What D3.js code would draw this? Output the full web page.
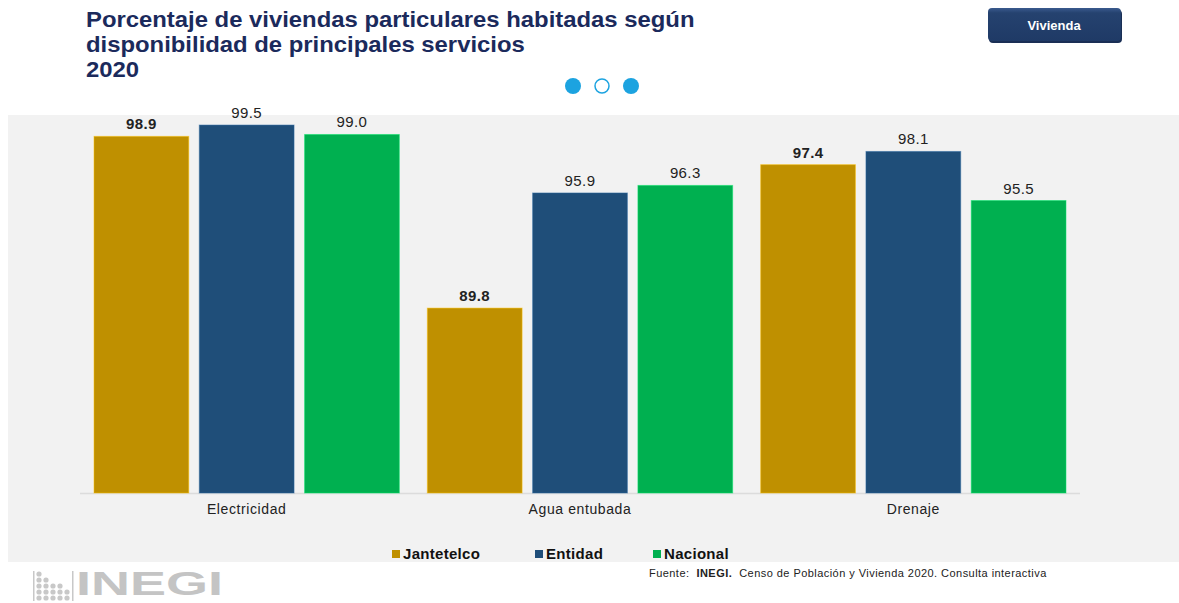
<!DOCTYPE html>
<html><head><meta charset="utf-8">
<script src="https://cdn.jsdelivr.net/npm/d3@7"></script>
<style>body{margin:0;background:#fff;font-family:"Liberation Sans",Arial,sans-serif;}</style>
</head><body>
<svg id="c" width="1179" height="603"></svg>
<script>
const categories = ["Electricidad", "Agua entubada", "Drenaje"];
const seriesNames = ["Jantetelco", "Entidad", "Nacional"];
const jantetelco = [98.9, 89.8, 97.4];
const entidad = [99.5, 95.9, 98.1];
const nacional = [99.0, 96.3, 95.5];
const seriesColors = ["#BF9000", "#1F4E79", "#00B050"];
const titleLines = ["Porcentaje de viviendas particulares habitadas según", "disponibilidad de principales servicios", "2020"];

const values = [jantetelco, entidad, nacional];
const svg = d3.select("#c");
const font = '"Liberation Sans",Arial,sans-serif';

// panel
svg.append("rect").attr("x", 8).attr("y", 115).attr("width", 1171).attr("height", 447).attr("fill", "#f2f2f2");

// title (slightly widened like the reference rendering)
svg.append("g").attr("transform", "translate(86,0) scale(1.085,1)")
  .selectAll("text").data(titleLines).join("text")
  .attr("x", 0).attr("y", (d, i) => 27 + i * 25)
  .attr("font-family", font).attr("font-size", 22).attr("font-weight", "bold")
  .attr("fill", "#1b2a5c").text(d => d);

// button
const defs = svg.append("defs");
const grad = defs.append("linearGradient").attr("id", "bg").attr("x1", 0).attr("y1", 0).attr("x2", 0).attr("y2", 1);
grad.append("stop").attr("offset", "0%").attr("stop-color", "#3a5a8e");
grad.append("stop").attr("offset", "15%").attr("stop-color", "#25426f");
grad.append("stop").attr("offset", "100%").attr("stop-color", "#1f3a66");
svg.append("rect").attr("x", 989).attr("y", 10).attr("width", 133).attr("height", 33).attr("rx", 4)
  .attr("fill", "#1a2f55");
svg.append("rect").attr("x", 988).attr("y", 8).attr("width", 133).attr("height", 33).attr("rx", 4)
  .attr("fill", "url(#bg)");
svg.append("text").attr("x", 1054).attr("y", 30).attr("text-anchor", "middle")
  .attr("font-family", font).attr("font-size", 13).attr("font-weight", "bold").attr("fill", "#fff").text("Vivienda");

// dots
[573, 602, 631].forEach((cx, i) => {
  svg.append("circle").attr("cx", cx).attr("cy", 86).attr("r", i === 1 ? 7 : 8)
    .attr("fill", i === 1 ? "#fff" : "#1ca3e0").attr("stroke", "#1ca3e0").attr("stroke-width", i === 1 ? 1.5 : 0);
});

// scales
const x0 = d3.scaleBand().domain(categories).range([80, 1080]).paddingInner(0).paddingOuter(0);
const x1 = d3.scaleBand().domain(seriesNames).range([14, x0.bandwidth() - 14]).paddingInner(0.1).paddingOuter(0);
const y = d3.scaleLinear().domain([80, 100]).range([493, 115.6]);

// baseline
svg.append("line").attr("x1", 80).attr("x2", 1080).attr("y1", y(80) + 0.5).attr("y2", y(80) + 0.5)
  .attr("stroke", "#dcdcdc").attr("stroke-width", 1.5);

const g = svg.append("g");
categories.forEach((cat, ci) => {
  seriesNames.forEach((s, si) => {
    const v = values[si][ci];
    const bx = x0(cat) + x1(s);
    g.append("rect").attr("x", bx).attr("y", y(v)).attr("width", x1.bandwidth()).attr("height", y(80) - y(v))
      .attr("fill", seriesColors[si]).attr("stroke", d3.color(seriesColors[si]).brighter(0.8)).attr("stroke-width", 1).attr("stroke-opacity", 0.5);
    g.append("text").attr("x", bx + x1.bandwidth() / 2).attr("y", y(v) - 7).attr("text-anchor", "middle")
      .attr("font-family", font).attr("font-size", 15).attr("font-weight", si === 0 ? "bold" : "normal")
      .attr("letter-spacing", 0.4).attr("fill", "#222").text(v.toFixed(1));
  });
});

// x axis labels
const xAxis = d3.axisBottom(x0).tickSize(0).tickPadding(0);
const ax = svg.append("g").attr("transform", `translate(0,${y(80)})`).call(xAxis);
ax.select(".domain").remove();
ax.selectAll("text").attr("font-family", font).attr("font-size", 14).attr("letter-spacing", 0.6)
  .attr("fill", "#222").attr("dy", "1.5em");

// legend
const legX = [392, 535, 653];
seriesNames.forEach((s, i) => {
  svg.append("rect").attr("x", legX[i]).attr("y", 550).attr("width", 8).attr("height", 8).attr("fill", seriesColors[i]);
  svg.append("text").attr("x", legX[i] + 11).attr("y", 559).attr("font-family", font).attr("font-size", 15)
    .attr("letter-spacing", 0.3).attr("font-weight", "bold").attr("fill", "#111").text(s);
});

// source
const src = svg.append("text").attr("x", 649).attr("y", 577).attr("font-family", font).attr("font-size", 11)
  .attr("letter-spacing", 0.45).attr("fill", "#222").style("white-space", "pre");
src.append("tspan").text("Fuente:  ");
src.append("tspan").attr("font-weight", "bold").text("INEGI.");
src.append("tspan").text("  Censo de Población y Vivienda 2020. Consulta interactiva");

// INEGI logo
const logo = svg.append("g").attr("fill", "#c8c8c8");
logo.append("rect").attr("x", 33).attr("y", 571).attr("width", 1.5).attr("height", 30);
const dotCols = [[39, [574, 580, 586, 592, 598]], [46, [580, 586, 592, 598]], [53, [586, 592, 598]], [60, [586, 592, 598]], [67, [592, 598]]];
dotCols.forEach(([cx, ys]) => ys.forEach(cy => logo.append("circle").attr("cx", cx).attr("cy", cy).attr("r", 2.6)));
logo.append("rect").attr("x", 72).attr("y", 571).attr("width", 1.5).attr("height", 30);
logo.append("text").attr("x", 76).attr("y", 595).attr("font-family", font).attr("font-size", 33).attr("font-weight", "bold")
  .attr("fill", "#c4c4c4").attr("textLength", 147).attr("lengthAdjust", "spacingAndGlyphs").text("INEGI");
</script>
</body></html>
